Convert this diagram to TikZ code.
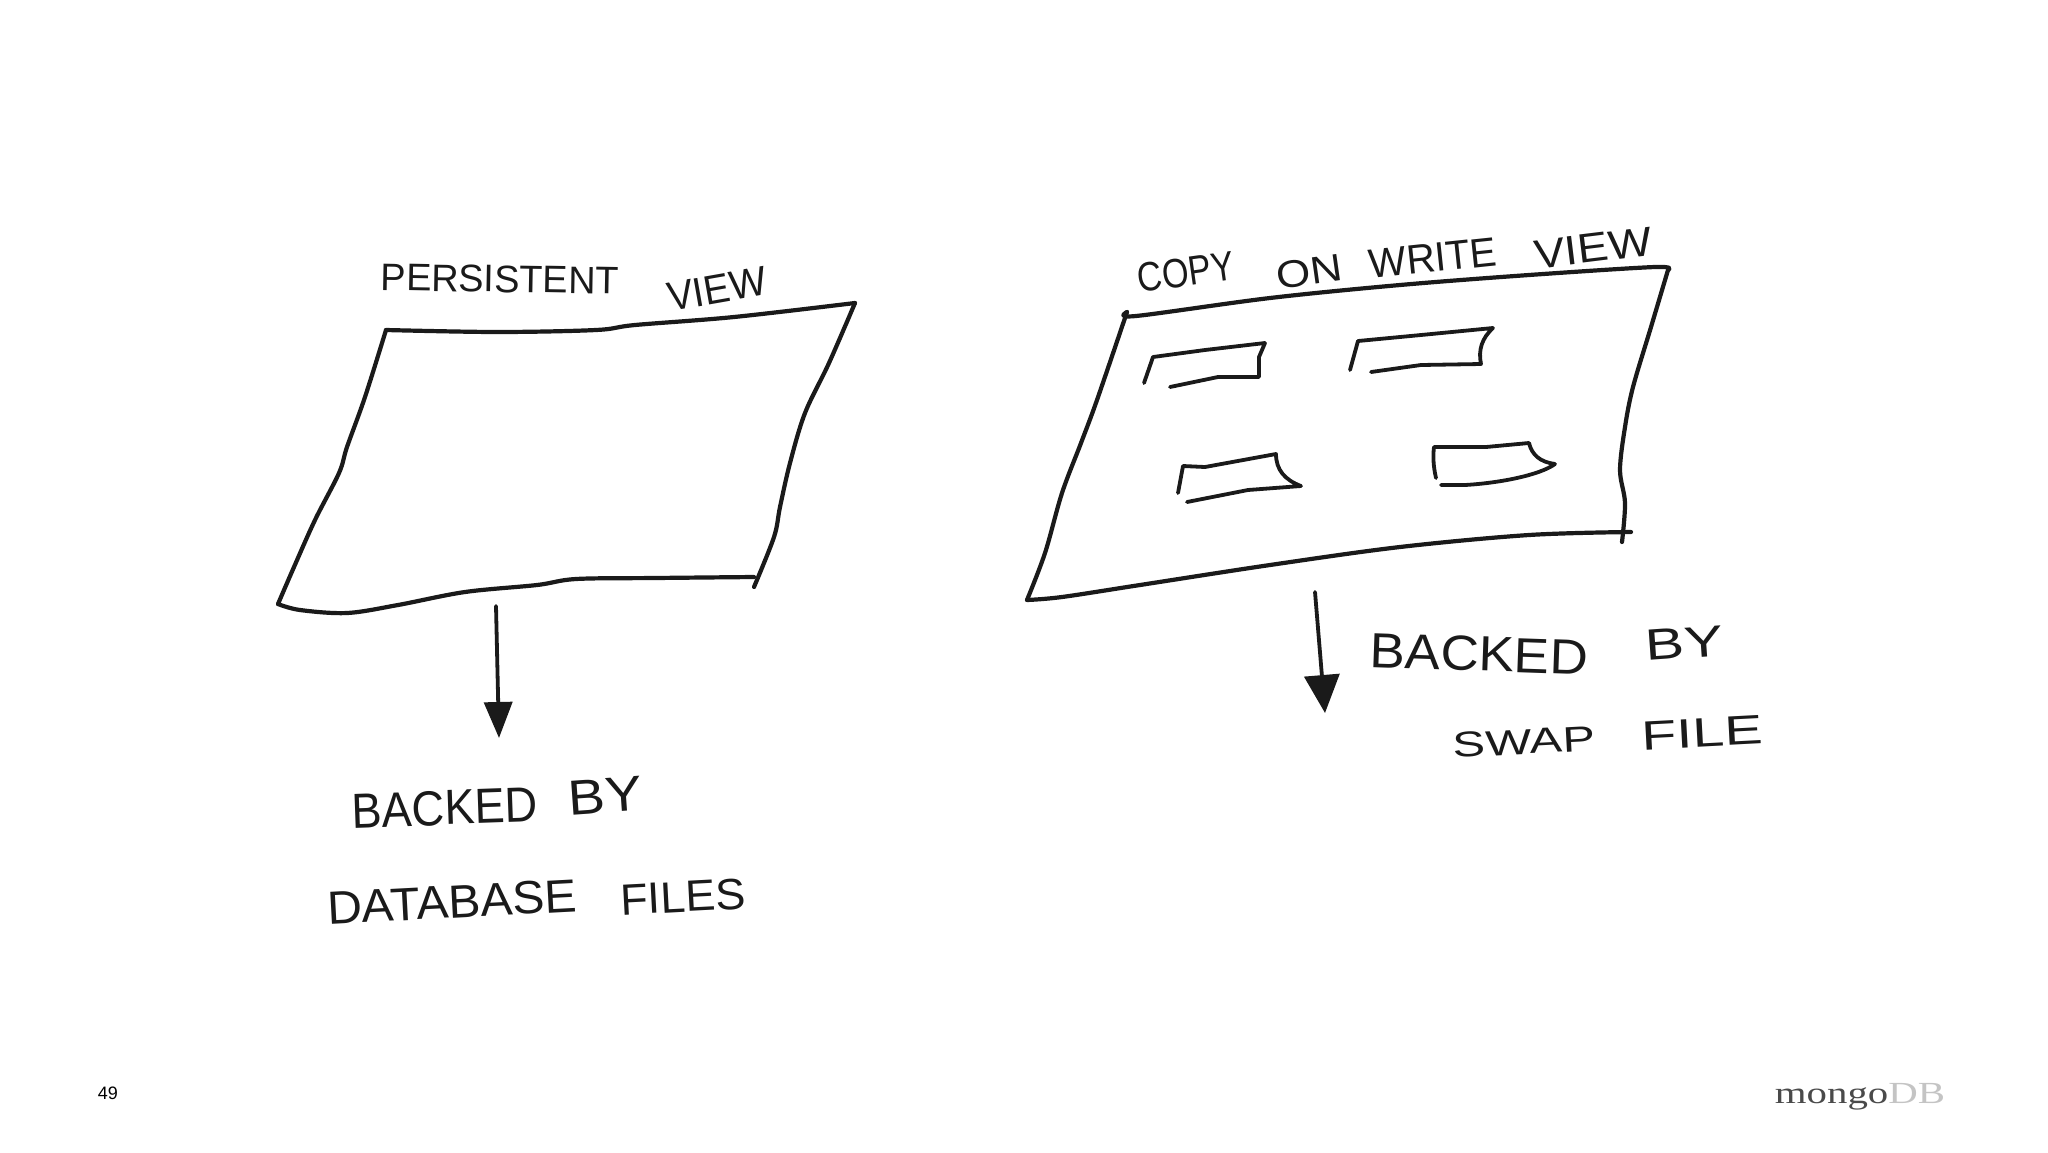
\documentclass[tikz,border=0pt]{standalone}
\usepackage{fontspec}
\setmainfont{Liberation Sans}
\newfontfamily\logofont[FakeStretch=1.33]{Liberation Serif}
\usetikzlibrary{arrows.meta}
\definecolor{ink}{HTML}{1A1A1A}
\definecolor{logodark}{HTML}{4A4A4A}
\definecolor{logolight}{HTML}{C4C4C4}
\tikzset{
  sketch/.style={draw=ink,line width=4.2pt,line cap=round,line join=round},
  thinsketch/.style={sketch,line width=3.8pt},
  hand/.style={inner sep=0pt,outer sep=0pt,text=ink},
  arrowline/.style={draw=ink,line width=3.8pt,line cap=round},
}
\newsavebox\hwbox
\newcommand{\handword}[3]{%
  \pgfmathsetmacro\hwsize{#2/0.73}%
  \sbox\hwbox{\fontsize{\hwsize pt}{\hwsize pt}\selectfont #3}%
  \pgfmathsetmacro\hwstretch{#1/\the\wd\hwbox}%
  \edef\hwfeature{\noexpand\addfontfeature{FakeStretch=\hwstretch}}%
  {\fontsize{\hwsize pt}{\hwsize pt}\selectfont\hwfeature #3}}
\newcommand{\hw}[7]{\node[hand,rotate=#6] (#1) at (#2,#3) {\handword{#4}{#5}{#7}};}
\newcommand{\curve}[2][sketch]{\draw[#1] plot[smooth,tension=0.55] coordinates {#2};}
\begin{document}
\begin{tikzpicture}[x=1pt,y=-1pt]
\useasboundingbox (0,0) rectangle (2048,1152);
\fill[white] (0,0) rectangle (2048,1152);

% left page
\curve{(386,330)(497,332)(596,330)(635,325)(734,317)(855,303)}
\curve{(855,303)(829,363)(805,413)(790,463)(780,507)(774,537)(754,587)}
\curve{(754,577)(655,578)(576,579)(537,585)(465,592)(398,605)(347,613)(300,610)(278,604)}
\curve{(278,604)(294,567)(315,520)(339,473)(347,447)(365,397)(386,330)}

\hw{persistent}{500}{279}{238}{28}{-1}{PERSISTENT}
\hw{viewa}{717}{289}{100}{30}{10}{VIEW}

\coordinate (la) at (496,606);
\coordinate (lb) at (499,738);
\draw[arrowline,-{Triangle[length=36pt,width=28pt]}] (la) -- (lb);

\hw{backeda}{445}{808}{186}{36}{2}{BACKED}
\hw{bya}{605}{796}{74}{36}{4}{BY}
\hw{database}{452}{902}{250}{34}{3}{DATABASE}
\hw{files}{683}{897}{125}{32}{3}{FILES}

% right page
\curve{(1127,312)(1136,316)(1270,298)(1400,285)(1529,275)(1655,267)(1668,270)}
\curve{(1668,270)(1651,327)(1633,387)(1625,427)(1620,470)(1625,503)(1622,542)}
\curve{(1631,532)(1529,535)(1400,547)(1270,565)(1140,585)(1062,597)(1027,600)}
\curve{(1027,600)(1045,553)(1062,493)(1081,443)(1097,400)(1127,312)}

% small pages
\draw[thinsketch] (1144,383) -- (1153,357) -- (1205,350) -- (1265,343) (1265,343) -- (1259,357) -- (1259,377) -- (1218,377) -- (1170,387);
\draw[thinsketch] (1350,370) -- (1358,341) -- (1421,335) -- (1493,328) .. controls (1482,338) and (1478,350) .. (1481,364) -- (1421,365) -- (1371,372);
\draw[thinsketch] (1178,493) -- (1183,466) -- (1205,467) -- (1276,454) .. controls (1276,470) and (1285,480) .. (1301,486) -- (1248,490) -- (1187,502);
\draw[thinsketch] (1436,478) .. controls (1433,465) and (1433,455) .. (1434,447) -- (1486,447) -- (1529,443) .. controls (1532,455) and (1540,462) .. (1555,464) .. controls (1540,475) and (1500,483) .. (1465,485) -- (1441,485);

\hw{copy}{1186}{272}{97}{30}{8}{COPY}
\hw{onw}{1309}{272}{66}{28}{8}{ON}
\hw{write}{1433}{258}{128}{30}{6}{WRITE}
\hw{viewb}{1593}{248}{118}{30}{7}{VIEW}

\coordinate (ra) at (1315,592);
\coordinate (rb) at (1325,713);
\draw[arrowline,-{Triangle[length=38pt,width=35pt]}] (ra) -- (rb);

\hw{backedb}{1479}{654}{218}{36}{-2}{BACKED}
\hw{byb}{1684}{643}{78}{32}{4}{BY}
\hw{swap}{1524}{742}{142}{26}{3}{SWAP}
\hw{fileb}{1702}{733}{121}{30}{3}{FILE}

% footer
\node[hand,text=black,font=\fontsize{18}{18}\selectfont] (pagenum) at (108,1093) {49};
\node[hand,font=\fontsize{30.7}{30.7}\selectfont] (logo) at (1860,1096.5) {\logofont\textcolor{logodark}{mongo}\textcolor{logolight}{DB}};
\end{tikzpicture}
\end{document}
